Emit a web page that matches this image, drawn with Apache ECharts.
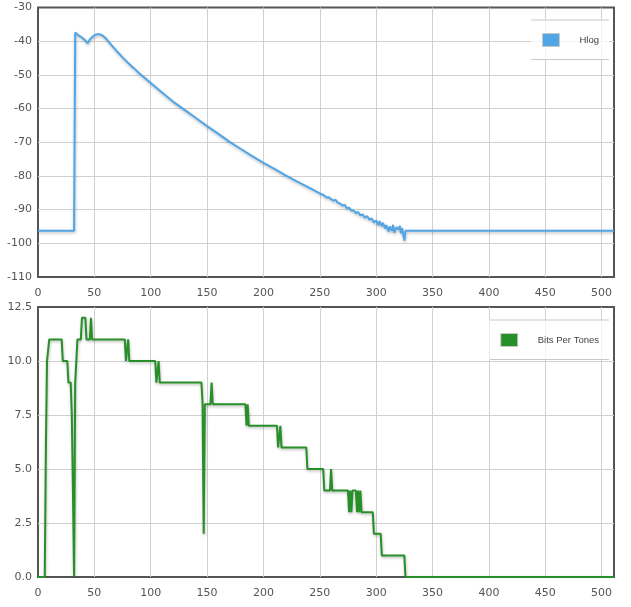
<!DOCTYPE html>
<html>
<head>
<meta charset="utf-8">
<script src="https://cdn.jsdelivr.net/npm/echarts@6/dist/echarts.min.js"></script>
<style>
html,body{margin:0;padding:0;background:#fff;}
#chart{width:631px;height:607px;}
</style>
</head>
<body>
<div id="chart"></div>
<script>
// Hlog curve: tone index / value (dB)
const hlogIdx = [0,32,33,34,36,38,40,42,44,45,46,48,50,52,54,56,58,60,62,65,70,75,80,85,90,95,100,110,120,130,140,150,160,170,180,190,200,210,220,230,240,250,254,256,258,260,262,264,266,268,270,272,274,276,278,280,282,284,286,288,290,292,294,296,298,300,302,303,305,306,308,309,311,312,314,315,316,318,320,321,322,323,324,325,326,511];
const hlogVal = [-96.3,-96.3,-37.4,-37.8,-38.3,-38.7,-39.2,-39.8,-40.6,-40.2,-39.5,-38.8,-38.3,-38.0,-37.9,-38.1,-38.5,-39.1,-39.9,-41.1,-43.0,-44.8,-46.5,-48.0,-49.6,-51.0,-52.4,-55.2,-58.0,-60.4,-62.8,-65.2,-67.5,-69.9,-72.0,-74.1,-76.1,-78.0,-79.9,-81.7,-83.4,-85.2,-85.8,-86.4,-86.3,-86.9,-87.3,-87.1,-88.0,-88.2,-88.8,-88.6,-89.6,-89.4,-90.3,-90.2,-91.0,-90.7,-91.7,-91.4,-92.4,-91.9,-93.0,-92.6,-93.8,-93.2,-94.6,-93.4,-94.9,-93.9,-95.6,-94.6,-96.5,-95.0,-96.2,-94.5,-96.8,-95.2,-95.9,-94.8,-97.0,-95.5,-96.0,-99.2,-96.3,-96.3];

// Bits per tone: tone index / bits
const bitsIdx = [0,6,7,8,9,10,21,22,26,27,29,30,31,32,33,34,35,38,39,42,43,46,47,48,77,78,79,80,81,104,105,106,107,108,145,146,147,148,153,154,155,184,185,186,187,212,213,214,215,216,238,239,253,254,259,260,261,275,276,277,278,279,282,283,284,285,286,287,297,298,304,305,325,326,511];
const bitsVal = [0,0,6,10,10,11,11,10,10,9,9,7.5,4,0,9,10,11,11,12,12,11,11,12,11,11,10,10,11,10,10,9,9,10,9,9,8,2,8,8,9,8,8,7,8,7,7,6,6,7,6,6,5,5,4,4,5,4,4,3,4,3,4,4,3,4,3,4,3,3,2,2,1,1,0,0];

const xMin = 0, xMax = 511, xStep = 50;
const hlogTicks = {min: -110, max: -30, step: 10};
const bitsTicks = {min: 0, max: 12.5, step: 2.5};

const pairs = (xs, ys) => xs.map((x, i) => [x, ys[i]]);

const labelStyle = {color: '#555', fontFamily: 'DejaVu Sans', fontSize: 11};
const splitStyle = {show: true, showMinLine: false, showMaxLine: false, lineStyle: {color: '#d0d0d0', width: 1}};

function xAxis(gi) {
  return {
    type: 'value', gridIndex: gi, min: xMin, max: xMax, interval: xStep,
    axisLine: {show: false}, axisTick: {show: false},
    axisLabel: Object.assign({margin: 11, showMaxLabel: false}, labelStyle),
    splitLine: splitStyle
  };
}
function yAxis(gi, t, fmt) {
  return {
    type: 'value', gridIndex: gi, min: t.min, max: t.max, interval: t.step,
    axisLine: {show: false}, axisTick: {show: false},
    axisLabel: Object.assign({margin: 6, formatter: fmt}, labelStyle),
    splitLine: splitStyle
  };
}
function legend(name, top, color) {
  return {
    data: [name], right: 22, top: top, orient: 'horizontal',
    backgroundColor: 'rgba(255,255,255,0.75)',
    padding: [13, 10, 13, 11],
    itemWidth: 17, itemHeight: 13,
    icon: 'rect',
    itemStyle: {color: color, borderColor: '#c8c8c8', borderWidth: 1},
    textStyle: {color: '#444', fontFamily: 'Liberation Sans', fontSize: 9.5, padding: [0, 0, 0, 15]},
    selectedMode: false
  };
}

const chart = echarts.init(document.getElementById('chart'), null, {renderer: 'canvas'});
const blue = '#4fa5e6', green = '#278f27';
const shadow = {shadowColor: 'rgba(0,0,0,0.28)', shadowBlur: 3, shadowOffsetX: 0.5, shadowOffsetY: 1.5};

chart.setOption({
  animation: false,
  backgroundColor: '#fff',
  grid: [
    {left: 38, right: 17, top: 7.5, height: 269.5, show: true, borderColor: '#555', borderWidth: 2, backgroundColor: 'transparent'},
    {left: 38, right: 17, top: 307, height: 270, show: true, borderColor: '#555', borderWidth: 2, backgroundColor: 'transparent'}
  ],
  xAxis: [xAxis(0), xAxis(1)],
  yAxis: [
    yAxis(0, hlogTicks, v => String(v)),
    yAxis(1, bitsTicks, v => v.toFixed(1))
  ],
  legend: [legend('Hlog', 20, blue), legend('Bits Per Tones', 320, green)],
  graphic: [
    {type: 'line', shape: {x1: 531, y1: 20, x2: 609, y2: 20}, style: {stroke: '#c8c8c8', lineWidth: 1}, z: 100},
    {type: 'line', shape: {x1: 531, y1: 59.5, x2: 609, y2: 59.5}, style: {stroke: '#c8c8c8', lineWidth: 1}, z: 100},
    {type: 'line', shape: {x1: 490, y1: 320, x2: 609, y2: 320}, style: {stroke: '#c8c8c8', lineWidth: 1}, z: 100},
    {type: 'line', shape: {x1: 490, y1: 359.5, x2: 609, y2: 359.5}, style: {stroke: '#c8c8c8', lineWidth: 1}, z: 100}
  ],
  series: [
    {name: 'Hlog', type: 'line', xAxisIndex: 0, yAxisIndex: 0, data: pairs(hlogIdx, hlogVal),
     showSymbol: false, symbol: 'none', color: blue,
     lineStyle: Object.assign({color: blue, width: 2}, shadow)},
    {name: 'Bits Per Tones', type: 'line', xAxisIndex: 1, yAxisIndex: 1, data: pairs(bitsIdx, bitsVal),
     showSymbol: false, symbol: 'none', color: green,
     lineStyle: Object.assign({color: green, width: 2}, shadow)}
  ]
});
</script>
</body>
</html>
